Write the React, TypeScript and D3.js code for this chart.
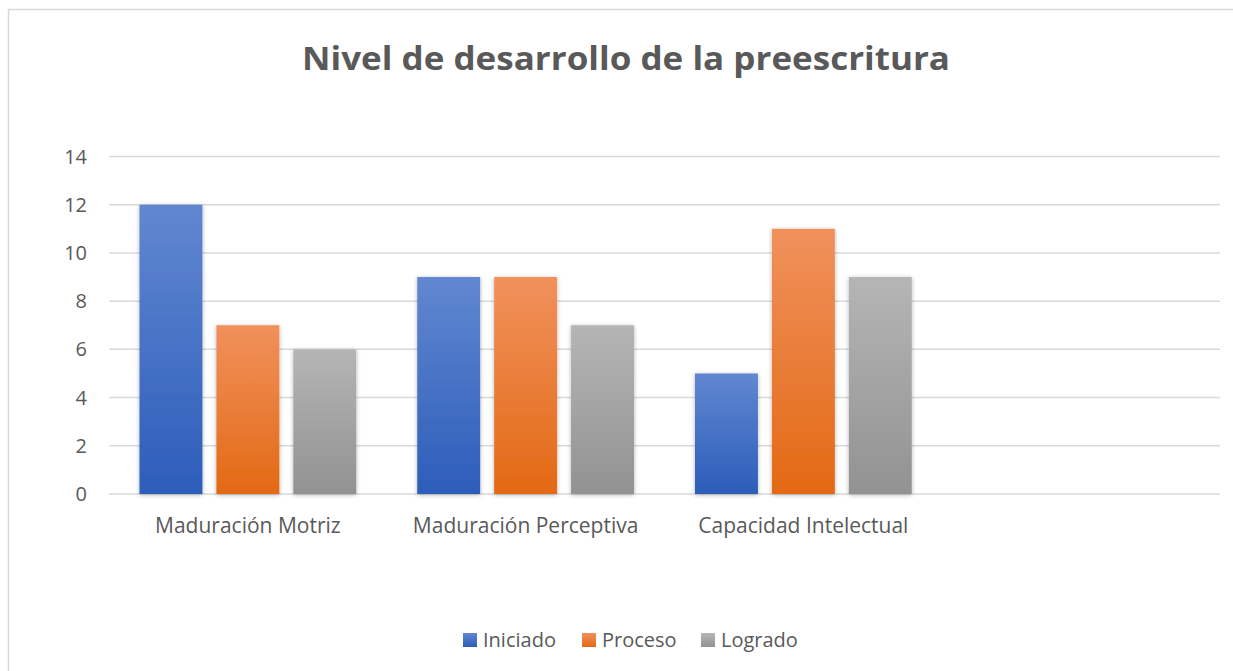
import React from 'react';
import * as d3 from 'd3';

const categories = ['Maduración Motriz', 'Maduración Perceptiva', 'Capacidad Intelectual', ''];
const seriesNames = ['Iniciado', 'Proceso', 'Logrado'];
const iniciado = [12, 9, 5];
const proceso = [7, 9, 11];
const logrado = [6, 7, 9];
const yTicks = [0, 2, 4, 6, 8, 10, 12, 14];
const title = 'Nivel de desarrollo de la preescritura';

const W = 1233;
const H = 671;
const margin = { top: 156.5, right: 13, bottom: 177, left: 109 };
const FONT = '"Open Sans", sans-serif';
const TEXT = '#595959';

const gradients = [
    { id: 'g-blue', top: '#6187d0', bottom: '#2c5dba' },
    { id: 'g-orange', top: '#f0915c', bottom: '#e36914' },
    { id: 'g-gray', top: '#b5b5b5', bottom: '#929292' },
];

const App: React.FC = () => {
    const values = [iniciado, proceso, logrado];

    const x = d3.scaleBand<string>()
        .domain(categories)
        .range([margin.left, W - margin.right])
        .padding(0);

    const inner = d3.scaleBand<string>()
        .domain(seriesNames)
        .range([30.5, x.bandwidth() - 30.5])
        .paddingInner(14 / 77)
        .paddingOuter(0);

    const y = d3.scaleLinear()
        .domain([0, 14])
        .range([H - margin.bottom, margin.top]);

    const legendItems = [
        { name: 'Iniciado', box: 463, text: 483 },
        { name: 'Proceso', box: 582, text: 602 },
        { name: 'Logrado', box: 701, text: 721 },
    ];

    return (
        <svg width={W} height={H} style={{ position: 'absolute', left: 0, top: 0, background: '#fff' }}>
            <defs>
                {gradients.map(g => (
                    <linearGradient key={g.id} id={g.id} x1="0" y1="0" x2="0" y2="1">
                        <stop offset="0%" stopColor={g.top} />
                        <stop offset="100%" stopColor={g.bottom} />
                    </linearGradient>
                ))}
                <filter id="shadow" x="-20%" y="-10%" width="140%" height="120%">
                    <feDropShadow dx="0" dy="1" stdDeviation="2" floodColor="#000" floodOpacity="0.3" />
                </filter>
            </defs>

            <rect x={8.5} y={9.5} width={W + 20} height={H + 20} fill="#fff" stroke="#d9d9d9" strokeWidth={1.5} />

            <text x={626} y={70} textAnchor="middle" fontFamily={FONT} fontWeight="bold" fontSize={33}
                fill={TEXT} textLength={648} lengthAdjust="spacingAndGlyphs">{title}</text>

            {/* gridlines */}
            {yTicks.map(t => (
                <line key={t} x1={margin.left} x2={W - margin.right} y1={y(t)} y2={y(t)}
                    stroke="#d9d9d9" strokeWidth={1.5} />
            ))}

            {/* y tick labels */}
            {yTicks.map(t => (
                <text key={'t' + t} x={87} y={y(t) + 7} textAnchor="end" fontFamily={FONT}
                    fontSize={20} fill={TEXT}>{t}</text>
            ))}

            {/* bars */}
            {categories.slice(0, 3).map((c, ci) => (
                <g key={c} transform={`translate(${x(c)},0)`}>
                    {seriesNames.map((s, si) => (
                        <rect key={s} x={inner(s)} width={inner.bandwidth()}
                            y={y(values[si][ci])} height={y(0) - y(values[si][ci])}
                            fill={`url(#${gradients[si].id})`} filter="url(#shadow)" />
                    ))}
                </g>
            ))}

            {/* category labels */}
            {categories.map(c => (
                <text key={'c' + c} x={(x(c) ?? 0) + x.bandwidth() / 2} y={533} textAnchor="middle"
                    fontFamily={FONT} fontSize={21} fill={TEXT}>{c}</text>
            ))}

            {/* legend */}
            {legendItems.map((l, i) => (
                <g key={l.name}>
                    <rect x={l.box} y={633} width={14} height={14} fill={`url(#${gradients[i].id})`} />
                    <text x={l.text} y={647} fontFamily={FONT} fontSize={20} fill={TEXT}>{l.name}</text>
                </g>
            ))}
        </svg>
    );
};

export default App;
